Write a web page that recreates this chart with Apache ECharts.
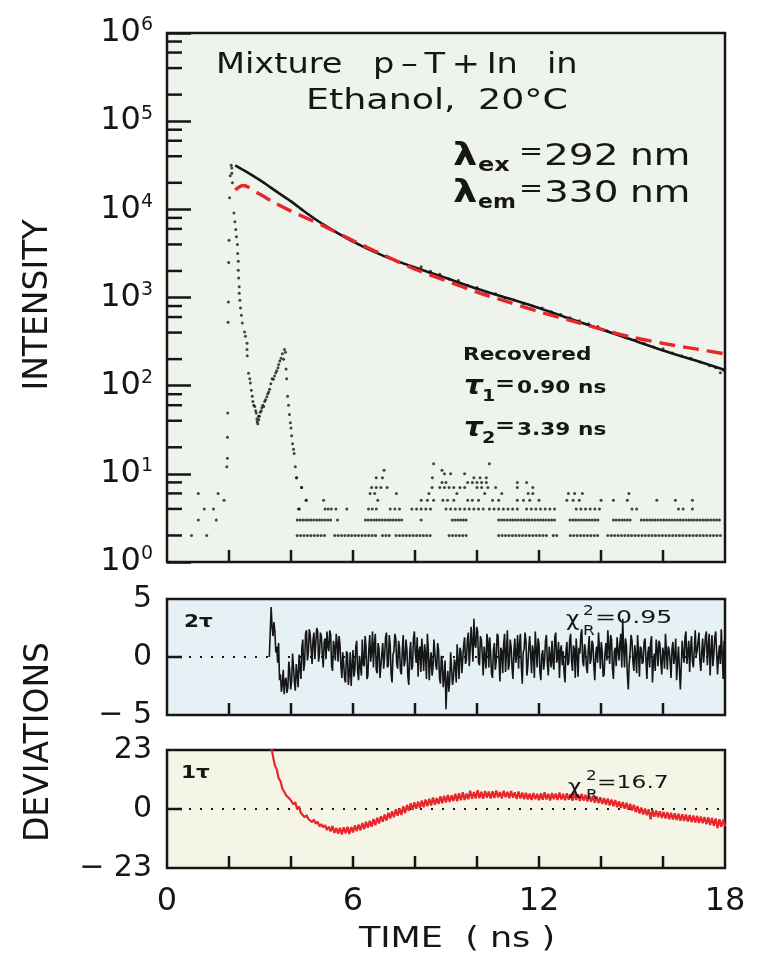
<!DOCTYPE html>
<html>
<head>
<meta charset="utf-8">
<script src="https://cdn.jsdelivr.net/npm/echarts@6/dist/echarts.min.js"></script>
<style>
html,body{margin:0;padding:0;background:#ffffff;}
#c{width:765px;height:955px;}
</style>
</head>
<body>
<div id="c"></div>
<script>
// ---------------- data ----------------
const timeMin = 0, timeMax = 18, timeStep = 2;
const timeLabelValues = [0, 6, 12, 18];
const intensityExponents = ['0', '1', '2', '3', '4', '5', '6'];
const minorTickMultipliers = [2, 4, 6, 8];
const devTwoTickValues = [-5, 0, 5];
const devTwoTickLabels = ['\u2212 5', '0', '5'];
const devOneTickValues = [-23, 0, 23];
const devOneTickLabels = ['\u2212 23', '0', '23'];

// two-exponential fit (black) and one-exponential fit (red dashed)
const fit2Times = [2.2, 2.5, 3, 3.5, 4, 4.5, 5, 6, 7, 8, 9, 10, 11, 12, 13, 14, 15, 16, 17, 18];
const fit2Values = [31600, 27500, 21400, 16200, 12300, 9100, 6900, 4300, 2950, 2190, 1660, 1260, 980, 760, 575, 437, 331, 251, 195, 151];
const fit1Times = [2.2, 2.45, 3, 3.5, 4, 4.5, 5, 6, 7, 8, 9, 10, 11, 12, 13, 14, 15, 16, 17, 18];
const fit1Values = [16600, 18600, 14800, 11700, 9550, 7940, 6610, 4420, 3020, 2090, 1550, 1150, 890, 690, 550, 437, 355, 302, 263, 229];

// measured decay counts visible around the fit line
const decayDots = [[8.2,2230],[8.5,1980],[8.8,1840],[9.1,1620],[9.4,1560],[9.7,1380],[10.0,1300],[10.3,1150],[10.6,1100],[10.9,990],[11.2,935],[11.5,850],[11.8,800],[12.1,760],[12.4,690],[12.7,640],[13.0,590],[13.3,545],[13.6,505],[13.9,470],[14.2,420],[14.5,390],[14.8,350],[15.1,330],[15.4,300],[15.7,275],[16.0,262],[16.3,235],[16.6,218],[16.9,205],[17.2,186],[17.5,168],[17.7,160],[17.85,140],[17.95,150]];

// lamp profile (dotted)
const lampDots = [
 [0.79,2],[1.01,3],[1.01,6],[1.20,4],[1.28,2],[1.50,4],[1.59,3],[1.65,6],[1.84,5],
 [1.93,12],[1.95,15],[1.95,26],[1.96,49],[1.97,525],[1.98,890],[1.99,2500],[2.00,4470],[2.02,13500],[2.04,24000],[2.07,31600],
 [2.09,29500],[2.09,25700],[2.11,20000],[2.16,9100],[2.19,7240],[2.22,5890],[2.24,4900],[2.27,3980],[2.28,3160],[2.30,2570],[2.30,2040],[2.31,1660],[2.33,1320],[2.33,1120],[2.35,933],[2.37,759],[2.40,631],[2.43,513],[2.50,407],[2.53,363],[2.58,302],[2.58,257],[2.59,219],
 [2.63,138],[2.67,120],[2.69,107],[2.72,89],[2.75,76],[2.77,66],[2.80,60],[2.83,58],[2.86,52],[2.88,49],[2.90,42],[2.91,39],[2.93,37],[2.95,45],[2.96,41],
 [2.98,45],[3.01,50],[3.04,52],[3.06,56],[3.09,60],[3.12,58],[3.15,66],[3.18,69],[3.22,75],[3.25,81],[3.28,85],[3.31,91],[3.35,105],[3.39,120],[3.43,118],[3.47,129],[3.51,140],[3.54,148],[3.58,160],[3.60,174],[3.64,190],[3.68,204],[3.72,230],[3.76,200],[3.79,257],[3.82,240],
 [3.84,155],[3.86,120],[3.89,76],[3.92,60],[3.95,47],[3.98,38],[4.00,33],[4.02,27],[4.05,22],[4.08,19],[4.10,17],[4.14,12],[4.18,9],[4.34,7],[4.27,4],[4.49,5]
];

// background counts after the lamp pulse: times at which each count level occurs
const noiseLevels = [2, 3, 4, 5, 6, 7, 8, 9, 10, 11, 13];
const noiseTimes = [
 [4.20,4.31,4.42,4.53,4.64,4.75,4.86,4.97,5.08,5.41,5.52,5.63,5.74,5.85,5.96,6.07,6.18,6.29,6.40,6.51,6.62,6.73,6.95,7.06,7.17,7.39,7.50,7.61,7.72,7.83,7.94,8.05,8.16,8.27,8.38,8.49,9.10,9.21,9.32,9.43,9.54,9.65,10.70,10.81,10.92,11.03,11.14,11.25,11.36,11.47,11.58,11.69,11.80,11.91,12.02,12.13,12.24,12.46,12.57,13.01,13.12,13.23,13.34,13.45,13.56,13.67,13.78,13.89,14.22,14.33,14.44,14.55,14.66,14.77,14.88,14.99,15.10,15.21,15.32,15.43,15.54,15.65,15.76,15.87,15.98,16.09,16.20,16.31,16.42,16.53,16.64,16.75,16.86,16.97,17.08,17.19,17.30,17.41,17.52,17.63,17.74,17.85],
 [4.20,4.29,4.38,4.47,4.56,4.65,4.74,4.83,4.92,5.01,5.10,5.19,5.28,5.50,6.40,6.49,6.58,6.67,6.76,6.85,6.94,7.03,7.12,7.21,7.30,7.39,7.48,7.57,8.20,9.20,9.29,9.38,9.47,9.56,9.65,10.70,10.79,10.88,10.97,11.06,11.15,11.24,11.33,11.42,11.51,11.60,11.69,11.78,11.87,11.96,12.05,12.14,12.23,12.32,12.41,12.50,13.00,13.09,13.18,13.27,13.36,13.45,13.54,13.63,13.72,13.81,13.90,14.40,14.49,14.58,14.67,14.76,14.85,14.94,15.30,15.39,15.48,15.57,15.66,15.75,15.84,15.93,16.02,16.11,16.20,16.29,16.38,16.47,16.56,16.65,16.74,16.83,16.92,17.01,17.10,17.19,17.28,17.37,17.46,17.55,17.64,17.73,17.82],
 [4.24,5.10,5.20,5.30,5.45,5.80,6.50,6.62,6.75,7.20,7.35,7.50,7.90,8.05,8.20,8.35,8.50,9.00,9.15,9.30,9.45,9.60,9.75,9.90,10.05,10.20,10.40,10.55,10.70,10.85,11.00,11.15,11.30,11.60,11.75,11.90,12.05,12.20,12.35,12.50,13.20,13.35,13.50,13.65,13.80,13.95,15.00,15.15,16.50,16.65,16.95],
 [4.49,5.05,6.80,8.20,8.40,8.60,8.90,9.05,9.25,9.70,9.85,10.05,10.50,10.70,11.30,11.50,11.70,12.00,12.90,13.10,13.30,14.00,14.40,14.85,15.80,16.40,16.95],
 [6.55,6.70,7.40,8.45,9.35,10.25,10.80,11.65,11.80,12.95,13.15,13.40,14.90],
 [4.34,6.60,6.75,6.90,7.10,8.55,8.80,8.95,9.10,9.25,9.45,9.60,10.00,10.15,10.35,10.60,11.30,11.80],
 [8.87,9.00,9.70,9.85,10.00,10.15,10.30,11.30,11.60],
 [4.18,6.75,6.95,8.56,9.90,10.10,10.30],
 [8.95,9.15,9.60],
 [7.00,8.87],
 [8.60,10.40]
];

// weighted residuals of the two-exponential fit, channels every 0.03 ns from 3.30 ns
const res2StartTime = 3.30, res2Step = 0.03;
const residual2Tau = [
 0,0.1,4.3,2.6,1.8,3.0,2.2,0.4,0.9,-0.5,1.2,-2.0,-1.5,-3.0,-2.4,-1.1,-3.2,-2.0,-1.8,-3.1,
 -2.6,-0.4,-1.2,-2.8,-2.1,0.3,-0.8,-2.2,-2.9,-0.6,-1.5,-2.6,0.2,-0.9,-1.9,0.8,1.5,-1.2,-0.5,2.0,
 2.3,-0.3,0.4,2.4,1.9,0.6,-0.6,1.5,2.1,-0.2,1.2,2.5,2.2,-0.4,0.3,2.1,1.8,0.2,-0.9,1.3,
 1.6,-0.2,2.2,0.9,0.5,2.3,1.9,-0.8,-1.2,1.4,0.8,-0.3,2.0,1.2,-0.4,1.8,1.1,-0.7,-1.8,0.4,
 -0.6,-1.9,-2.2,0.5,0.3,-2.4,-1.5,0.4,-2.5,-0.8,0.6,-1.7,-1.1,0.9,1.4,-1.3,-2.0,0.1,0.2,-1.6,
 1.5,-0.6,-0.8,1.8,0.9,-1.9,-1.6,0.6,1.9,-0.4,0.4,2.2,-0.9,1.1,2.0,-1.1,-1.4,1.2,0.7,-1.8,
 -1.9,0.3,1.2,-1.0,0.1,1.7,2.1,-0.9,-0.7,1.9,1.0,-1.5,-2.2,0.2,0.5,2.0,1.6,-0.6,-1.0,1.4,
 0.8,-1.2,-1.5,0.6,1.9,-0.8,-0.3,1.5,0.6,-1.7,-2.4,0.4,1.3,-1.1,-0.8,1.6,2.2,0.3,-0.5,1.7,
 -1.7,0.5,0.9,-1.3,1.6,0.2,-1.2,1.1,0.3,-1.9,2.0,0.6,-2.0,-0.4,0.4,-1.6,-0.9,1.5,1.4,-0.7,
 -1.1,1.2,0.6,-1.8,-2.3,0.1,-0.4,-2.6,-1.6,-0.3,-4.5,-2.2,-1.2,-3.0,-2.1,0.4,0.3,-2.4,-1.8,-0.2,
 -0.6,-2.2,1.1,-0.3,-1.9,0.8,0.5,-1.4,-1.3,1.0,1.7,-0.6,-0.2,1.5,2.1,-0.8,0.6,2.6,1.3,-0.4,
 3.3,1.1,0.8,2.6,2.2,-0.5,-0.7,1.8,1.5,0.2,-1.6,0.9,0.9,-1.0,2.0,1.3,-0.9,1.7,0.3,-1.5,
 -1.8,0.6,1.2,-1.1,-0.4,2.0,1.8,-0.2,-2.1,0.8,0.5,-1.4,1.1,2.0,-1.3,0.4,2.3,-1.1,-0.6,1.5,
 0.9,-0.9,-1.9,0.5,1.6,-0.5,0.2,1.9,-1.0,1.1,2.0,-0.7,-2.3,0.4,0.7,2.1,1.3,-1.6,-0.8,0.8,
 1.8,0.3,-1.4,1.0,0.4,-1.8,2.2,0.7,-0.9,1.6,1.1,-1.3,-2.0,0.2,0.6,-1.1,-0.3,1.4,1.9,-0.6,
 -1.6,0.9,0.8,-0.9,1.4,-0.4,-1.1,1.7,2.1,-0.5,0.0,1.3,-1.8,0.6,1.0,-0.7,0.5,-1.4,-2.2,0.5,
 1.3,-0.7,-0.5,1.5,2.0,-0.3,-1.2,1.0,0.7,-1.8,1.6,0.2,-1.7,0.8,0.3,1.9,2.4,-0.4,-0.8,1.1,
 0.6,-0.9,-1.4,0.7,1.8,-0.6,-0.2,1.4,1.1,-0.8,-2.0,0.3,0.9,-0.5,2.1,0.7,-1.0,1.3,0.4,-1.7,
 -1.5,0.4,1.2,-0.3,2.3,0.9,-0.6,1.9,1.5,-1.0,-1.9,0.5,0.8,-0.8,1.7,0.6,-0.3,1.2,2.0,-0.9,
 3.3,0.8,-0.9,1.6,1.0,-1.5,-2.8,-0.6,0.5,1.9,1.4,-0.4,-1.2,1.0,0.2,-1.4,1.9,0.5,-1.7,0.9,
 0.7,-0.6,-0.4,1.3,1.6,-0.2,-1.9,0.3,0.9,-0.9,1.2,1.8,-2.2,-0.5,0.3,-1.2,1.5,0.7,-0.8,1.4,
 1.1,-0.5,-1.5,0.8,0.4,-1.0,2.0,0.5,-1.1,0.9,0.6,-0.4,-1.8,0.7,1.3,-0.6,0.1,1.6,-2.0,-0.3,
 0.9,-1.1,-2.8,-0.7,1.4,0.2,-0.5,1.7,2.2,-0.6,0.3,1.4,-1.3,0.8,1.8,-0.4,-0.9,0.6,2.3,0.1,
 0.5,1.3,2.1,-0.3,-1.2,0.4,1.6,-0.5,-0.4,1.8,2.2,-0.7,0.8,2.0,-1.6,0.5,1.9,-0.8,0.2,1.7,
 2.2,0.4,-1.5,0.1,1.0,-0.6,2.4,0.3,-1.9,1.4,0.6
];

// weighted residuals of the one-exponential fit, channels every 0.06 ns from 3.30 ns
const res1StartTime = 3.30, res1Step = 0.06;
const residual1Tau = [
 30,24.5,20.5,17.0,15.5,12.0,10.9,8.0,8.3,5.4,
 5.8,3.9,4.4,1.8,2.6,-0.2,1.0,-1.6,-1.0,-3.2,
 -2.4,-3.9,-3.6,-5.1,-4.2,-5.8,-4.9,-6.8,-5.9,-7.1,
 -6.3,-8.2,-6.9,-8.7,-6.6,-9.3,-7.4,-9.6,-7.3,-9.9,
 -7.1,-9.4,-6.9,-9.7,-7.0,-9.1,-6.4,-8.6,-6.1,-8.3,
 -5.5,-7.9,-5.0,-7.3,-4.6,-6.9,-3.9,-6.3,-3.4,-5.6,
 -2.8,-5.0,-2.2,-4.5,-1.5,-3.7,-0.9,-3.2,-0.1,-2.6,
 0.2,-2.3,1.1,-1.6,1.6,-0.7,2.2,-0.4,2.6,0.1,
 2.9,0.4,3.3,0.7,3.7,1.1,4.0,1.4,4.5,1.7,
 4.3,2.0,5.0,2.2,5.2,2.5,5.5,2.7,5.3,3.1,
 5.9,3.0,6.1,3.4,6.5,3.5,6.0,3.8,7.1,4.0,
 6.6,4.1,7.3,4.2,6.7,4.0,7.0,4.4,6.8,4.1,
 6.9,4.3,7.2,4.5,6.6,4.1,7.1,4.6,6.7,4.2,
 7.0,4.4,6.5,3.9,6.8,4.1,6.4,3.8,6.3,3.7,
 6.0,3.5,6.2,3.8,5.9,3.4,6.1,3.6,6.5,3.7,
 5.9,3.3,6.2,3.8,6.0,3.5,6.4,3.7,5.9,3.4,
 6.1,3.6,5.8,3.2,6.0,3.5,5.7,3.1,5.9,3.3,
 5.5,2.9,5.4,2.8,5.1,2.5,4.9,2.3,4.6,2.0,
 4.3,1.7,4.1,1.4,3.7,1.1,3.5,0.7,3.0,0.4,
 2.7,0.1,2.4,-0.3,2.0,-0.6,1.6,-1.2,1.1,-1.7,
 0.6,-2.1,0.2,-2.4,-0.1,-4.0,-0.4,-3.0,-0.6,-3.2,
 -0.9,-3.5,-1.1,-3.7,-1.3,-4.0,-1.5,-4.1,-1.7,-4.3,
 -1.9,-4.6,-2.1,-4.7,-2.2,-4.9,-2.4,-5.1,-2.6,-5.2,
 -2.7,-5.4,-2.9,-5.5,-3.1,-5.9,-3.2,-6.2,-3.5,-6.5,
 -3.7,-7.4,-4.0,-6.9,-4.1,-6.7
];

// ---------------- build ----------------
const FONT = "'DejaVu Sans', sans-serif";
const INK = '#161616';
const RED = '#e8262c';

const fit2Data = fit2Times.map((t, i) => [t, fit2Values[i]]);
const fit1Data = fit1Times.map((t, i) => [t, fit1Values[i]]);
const noiseData = [];
noiseLevels.forEach((c, i) => noiseTimes[i].forEach(t => noiseData.push([t, c])));
const res2Data = residual2Tau.map((v, i) => [+(res2StartTime + i * res2Step).toFixed(2), v]);
const res1Data = residual1Tau.map((v, i) => [+(res1StartTime + i * res1Step).toFixed(2), v]);
const zeroLine = [[timeMin, 0], [timeMax, 0]];
const minorTickData = [];
for (let e = 0; e < intensityExponents.length - 1; e++) {
  minorTickMultipliers.forEach(m => minorTickData.push([timeMin, m * Math.pow(10, e)]));
}
const timeTickValues = [];
for (let t = timeMin + timeStep; t < timeMax; t += timeStep) timeTickValues.push(t);
const panelBottoms = [1, devTwoTickValues[0], devOneTickValues[0]];

const gridBase = {left: 167, width: 558, show: true, borderColor: INK, borderWidth: 2.5};
const xAxes = [0, 1, 2].map(gi => ({
  type: 'value', gridIndex: gi, min: timeMin, max: timeMax, interval: timeStep, position: 'bottom',
  axisLine: {show: false, onZero: false}, splitLine: {show: false},
  axisTick: {show: false},
  axisLabel: gi === 2 ? {
    show: true, margin: 18, fontSize: 32, fontFamily: FONT, color: INK,
    formatter: v => timeLabelValues.indexOf(v) >= 0 ? String(v) : ''
  } : {show: false}
}));

function devAxis(gi, vals, labels, span) {
  return {
    type: 'value', gridIndex: gi, min: -span, max: span, interval: span, position: 'left',
    axisLine: {show: false, onZero: false}, splitLine: {show: false},
    axisTick: {show: false},
    axisLabel: {margin: 15, fontSize: 30, fontFamily: FONT, color: INK,
      formatter: v => { const k = vals.indexOf(v); return k >= 0 ? labels[k] : ''; }}
  };
}

// tick marks drawn through the axes' own scales
function tickSeries(gi, data, dx, dy) {
  return {
    type: 'custom', xAxisIndex: gi, yAxisIndex: gi, data: data, clip: false, silent: true, z: 5,
    renderItem: (params, api) => {
      const p = api.coord([api.value(0), api.value(1)]);
      return {type: 'line', shape: {x1: p[0], y1: p[1], x2: p[0] + dx, y2: p[1] + dy},
              style: {stroke: INK, lineWidth: 2.5}};
    }
  };
}

function T(x, y, text, size, o) {
  o = o || {};
  return {
    type: 'text', x: x, y: y, scaleX: o.sx || 1.2, scaleY: 1, rotation: o.rot || 0, z: 100,
    style: {
      text: text, fontSize: size, fontFamily: FONT, fontWeight: o.w || 'normal',
      fontStyle: o.it ? 'italic' : 'normal', fill: INK,
      align: o.align || 'left', verticalAlign: 'middle'
    }
  };
}

const graphics = [
  T(216, 66, 'Mixture', 28),
  T(373, 66, 'p\u2009\u2013\u2009T\u2009+\u2009In', 28),
  T(547, 66, 'in', 28),
  T(306, 102, 'Ethanol,', 28, {sx: 1.3}),
  T(478, 102, '20\u00B0C', 28, {sx: 1.3}),
  T(453, 157, '\u03BB', 32, {w: 'bold'}),
  T(478, 166, 'ex', 20, {w: 'bold'}),
  T(519, 153, '=', 24),
  T(544, 157, '292', 30, {sx: 1.3}),
  T(630, 157, 'nm', 30, {sx: 1.25}),
  T(453, 194, '\u03BB', 32, {w: 'bold'}),
  T(478, 203, 'em', 20, {w: 'bold', sx: 1.1}),
  T(519, 190, '=', 24),
  T(544, 194, '330', 30, {sx: 1.3}),
  T(630, 194, 'nm', 30, {sx: 1.25}),
  T(463, 355, 'Recovered', 18, {w: 'bold'}),
  T(464, 387, '\u03C4', 27, {w: 'bold', it: true, sx: 1.1}),
  T(482, 397, '1', 16, {w: 'bold'}),
  T(495, 385, '=', 20, {w: 'bold'}),
  T(517, 388, '0.90', 18, {w: 'bold'}),
  T(578, 388, 'ns', 18, {w: 'bold'}),
  T(464, 429, '\u03C4', 27, {w: 'bold', it: true, sx: 1.1}),
  T(482, 439, '2', 16, {w: 'bold'}),
  T(495, 427, '=', 20, {w: 'bold'}),
  T(517, 430, '3.39', 18, {w: 'bold'}),
  T(578, 430, 'ns', 18, {w: 'bold'}),
  T(184, 622, '2\u03C4', 18, {w: 'bold'}),
  T(566, 621, '\u03C7', 21, {sx: 1.1}),
  T(583, 611, '2', 14),
  T(583, 631, 'R', 14),
  T(595, 618, '=0.95', 18, {sx: 1.4}),
  T(181, 773, '1\u03C4', 18, {w: 'bold'}),
  T(568, 789, '\u03C7', 21, {sx: 1.1}),
  T(586, 776, '2', 14),
  T(586, 795, 'R', 14),
  T(597, 783, '=16.7', 18, {sx: 1.3}),
  T(38, 305, 'INTENSITY', 33, {sx: 1, rot: Math.PI / 2, align: 'center'}),
  T(39, 742, 'DEVIATIONS', 33, {sx: 1, rot: Math.PI / 2, align: 'center'}),
  T(457, 940, 'TIME  ( ns )', 28, {sx: 1.25, align: 'center'})
];

const option = {
  animation: false,
  backgroundColor: '#ffffff',
  grid: [
    Object.assign({}, gridBase, {top: 33, height: 529, backgroundColor: '#eef4ec'}),
    Object.assign({}, gridBase, {top: 599, height: 116, backgroundColor: '#e6f1f5'}),
    Object.assign({}, gridBase, {top: 750, height: 118, backgroundColor: '#f4f5e6'})
  ],
  xAxis: xAxes,
  yAxis: [
    {
      type: 'log', logBase: 10, gridIndex: 0, min: 1, max: 1e6, position: 'left',
      axisLine: {show: false, onZero: false}, splitLine: {show: false},
      axisTick: {show: true, inside: true, length: 24, lineStyle: {color: INK, width: 2.5}},
      axisLabel: {
        margin: 14,
        formatter: v => '{b|10}{s|' + intensityExponents[Math.round(Math.log10(v))] + '}',
        rich: {
          b: {fontSize: 32, fontFamily: FONT, color: INK, lineHeight: 34},
          s: {fontSize: 19, fontFamily: FONT, color: INK, lineHeight: 16, verticalAlign: 'top'}
        }
      }
    },
    devAxis(1, devTwoTickValues, devTwoTickLabels, 5),
    devAxis(2, devOneTickValues, devOneTickLabels, 23)
  ],
  series: [
    {type: 'line', xAxisIndex: 1, yAxisIndex: 1, data: zeroLine, symbol: 'none', silent: true,
     lineStyle: {color: INK, width: 2.2, type: [2, 9]}},
    {type: 'line', xAxisIndex: 2, yAxisIndex: 2, data: zeroLine, symbol: 'none', silent: true,
     lineStyle: {color: INK, width: 2.2, type: [2, 9]}},
    tickSeries(0, minorTickData, 15, 0),
    tickSeries(0, timeTickValues.map(t => [t, panelBottoms[0]]), 0, -12),
    tickSeries(1, timeTickValues.map(t => [t, panelBottoms[1]]), 0, -12),
    tickSeries(2, timeTickValues.map(t => [t, panelBottoms[2]]), 0, -12),
    tickSeries(1, [[timeMin, 0]], 15, 0),
    tickSeries(2, [[timeMin, 0]], 15, 0),
    {type: 'scatter', xAxisIndex: 0, yAxisIndex: 0, data: lampDots, symbolSize: 3, itemStyle: {color: INK}, silent: true},
    {type: 'scatter', xAxisIndex: 0, yAxisIndex: 0, data: noiseData, symbolSize: 3, itemStyle: {color: INK}, silent: true},
    {type: 'scatter', xAxisIndex: 0, yAxisIndex: 0, data: decayDots, symbolSize: 3, itemStyle: {color: INK}, silent: true},
    {type: 'line', xAxisIndex: 0, yAxisIndex: 0, data: fit2Data, symbol: 'none', smooth: 0.3,
     lineStyle: {color: INK, width: 2.6}},
    {type: 'line', xAxisIndex: 0, yAxisIndex: 0, data: fit1Data, symbol: 'none', smooth: 0.3,
     lineStyle: {color: RED, width: 3.4, type: [16, 8]}},
    {type: 'line', xAxisIndex: 1, yAxisIndex: 1, data: res2Data, symbol: 'none',
     lineStyle: {color: INK, width: 1.6}},
    {type: 'line', xAxisIndex: 2, yAxisIndex: 2, data: res1Data, symbol: 'none',
     lineStyle: {color: RED, width: 2.2}}
  ],
  graphic: graphics
};

const chart = echarts.init(document.getElementById('c'), null, {renderer: 'canvas'});
chart.setOption(option);
</script>
</body>
</html>
